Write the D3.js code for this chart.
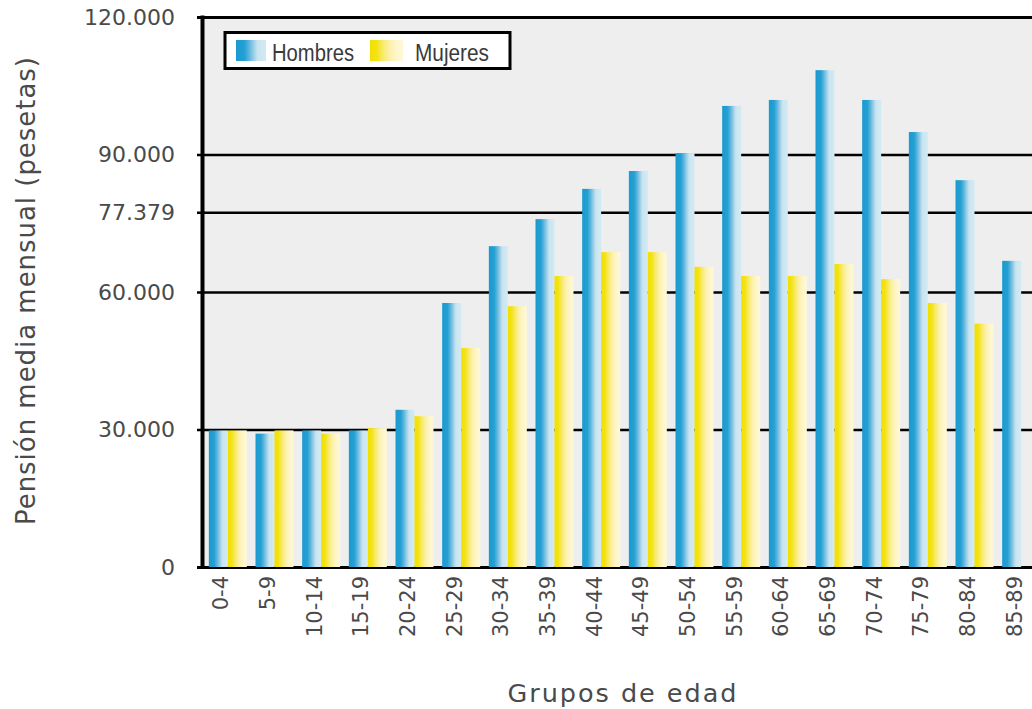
<!DOCTYPE html>
<html>
<head>
<meta charset="utf-8">
<script src="https://cdn.jsdelivr.net/npm/d3@7"></script>
<style>
  html, body { margin: 0; padding: 0; background: #ffffff; }
  svg { display: block; }
</style>
</head>
<body>
<svg id="chart" width="1032" height="709"></svg>
<script>
// ---- data ----
const categories = ["0-4","5-9","10-14","15-19","20-24","25-29","30-34","35-39","40-44","45-49","50-54","55-59","60-64","65-69","70-74","75-79","80-84","85-89"];
const hombres = [29800, 29100, 29800, 29800, 34300, 57600, 70000, 75900, 82500, 86400, 90300, 100600, 101900, 108400, 101900, 94900, 84400, 66800];
const mujeres = [29800, 29800, 29100, 30300, 32900, 47800, 56900, 63500, 68700, 68700, 65500, 63500, 63500, 66100, 62800, 57600, 53100, null];
const seriesNames = ["Hombres", "Mujeres"];
const yTicks = [0, 30000, 60000, 77379, 90000, 120000];
const yTitle = "Pensión media mensual (pesetas)";
const xTitle = "Grupos de edad";

// ---- layout ----
const svg = d3.select("#chart");
const plotLeft = 204, plotTop = 17, plotBottom = 567, plotRight = 1100;
const fmt = d3.formatLocale({decimal: ",", thousands: ".", grouping: [3], currency: ["", " €"]}).format(",d");
const FONT = "DejaVu Sans, Verdana, sans-serif";

const x = d3.scaleBand().domain(categories).range([204.5, 1044.5]).paddingInner(0.186).paddingOuter(0.093);
const xs = d3.scaleBand().domain(seriesNames).range([0, x.bandwidth()]);
const y = d3.scaleLinear().domain([0, 120000]).range([plotBottom, plotTop]);

// gradients
const defs = svg.append("defs");
function grad(id, stops) {
  const g = defs.append("linearGradient").attr("id", id).attr("x1", 0).attr("x2", 1).attr("y1", 0).attr("y2", 0);
  stops.forEach(s => g.append("stop").attr("offset", s[0]).attr("stop-color", s[1]));
}
grad("gH", [[0, "#1a9ad0"], [0.28, "#24a0d3"], [0.45, "#62b7de"], [0.6, "#9fd0e8"], [0.72, "#c9e5f0"], [1, "#d3eaf3"]]);
grad("gM", [[0, "#f2df00"], [0.2, "#f3e312"], [0.4, "#f8ea6e"], [0.6, "#fcf1ab"], [0.8, "#fef6cb"], [1, "#fff8d6"]]);

// plot background
svg.append("rect").attr("x", plotLeft).attr("y", plotTop)
  .attr("width", plotRight - plotLeft).attr("height", plotBottom - plotTop)
  .attr("fill", "#eeeeee");

// y axis: gridlines with tick stubs and labels
const gAxis = svg.append("g").attr("transform", `translate(${plotLeft - 7},0)`)
  .call(d3.axisLeft(y).tickValues(yTicks)
    .tickSize(-(plotRight - plotLeft + 7)).tickPadding(22).tickFormat(d => fmt(d)));
gAxis.select(".domain").remove();
gAxis.selectAll(".tick line")
  .attr("stroke", "#000")
  .attr("stroke-width", d => (d === 0 || d === 120000) ? 3 : 2.5);
gAxis.selectAll(".tick text")
  .attr("font-family", FONT).attr("font-size", 22).attr("fill", "#4a4a4a");

// bars
const groups = svg.append("g").selectAll("g").data(categories).join("g")
  .attr("transform", d => `translate(${x(d)},0)`);
groups.append("rect")
  .attr("x", xs("Hombres")).attr("width", xs.bandwidth())
  .attr("y", (d, i) => y(hombres[i])).attr("height", (d, i) => y(0) - y(hombres[i]))
  .attr("fill", "url(#gH)");
groups.filter((d, i) => mujeres[i] != null).append("rect")
  .attr("x", xs("Mujeres")).attr("width", xs.bandwidth())
  .attr("y", d => y(mujeres[categories.indexOf(d)]))
  .attr("height", d => y(0) - y(mujeres[categories.indexOf(d)]))
  .attr("fill", "url(#gM)");

// left axis line
svg.append("line").attr("x1", plotLeft - 1.5).attr("x2", plotLeft - 1.5)
  .attr("y1", plotTop - 1.5).attr("y2", plotBottom + 1.5)
  .attr("stroke", "#000").attr("stroke-width", 4);

// x labels
svg.append("g").selectAll("text").data(categories).join("text")
  .attr("transform", d => `translate(${x(d) + x.bandwidth() / 2 - 7},576) rotate(-90)`)
  .attr("dy", "0.36em")
  .attr("text-anchor", "end")
  .attr("font-family", FONT)
  .attr("font-size", 21).attr("fill", "#4a4a4a")
  .text(d => d);

// axis titles
svg.append("text")
  .attr("transform", "translate(35,291) rotate(-90)")
  .attr("text-anchor", "middle")
  .attr("font-family", FONT)
  .attr("font-size", 26).attr("fill", "#4a4a4a")
  .attr("textLength", 468).attr("lengthAdjust", "spacing")
  .text(yTitle);
svg.append("text")
  .attr("x", 622).attr("y", 702)
  .attr("text-anchor", "middle")
  .attr("font-family", FONT)
  .attr("font-size", 25.5).attr("fill", "#4a4a4a")
  .attr("textLength", 229).attr("lengthAdjust", "spacing")
  .text(xTitle);

// legend
const lg = svg.append("g");
lg.append("rect").attr("x", 225).attr("y", 32.5).attr("width", 285).attr("height", 36)
  .attr("fill", "#ffffff").attr("stroke", "#000").attr("stroke-width", 3);
const legendItems = [
  {name: seriesNames[0], fill: "url(#gH)", sx: 236, sw: 30, tx: 272, tl: 82},
  {name: seriesNames[1], fill: "url(#gM)", sx: 370, sw: 33, tx: 415, tl: 74}
];
legendItems.forEach(it => {
  lg.append("rect").attr("x", it.sx).attr("y", 40).attr("width", it.sw).attr("height", 21).attr("fill", it.fill);
  lg.append("text").attr("x", it.tx).attr("y", 61)
    .attr("font-family", "Liberation Sans, Arial, sans-serif")
    .attr("font-size", 23).attr("fill", "#3a3a3a")
    .attr("textLength", it.tl).attr("lengthAdjust", "spacingAndGlyphs")
    .text(it.name);
});
</script>
</body>
</html>
